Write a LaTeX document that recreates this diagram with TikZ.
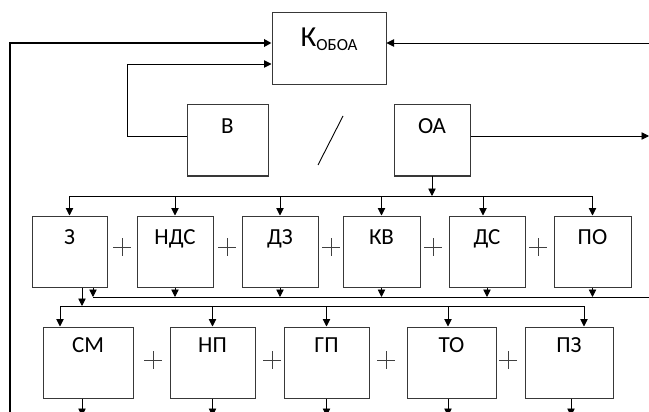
\documentclass[tikz,border=0pt]{standalone}
\usepackage{fontspec}
\setmainfont{Carlito}
\usetikzlibrary{arrows.meta}
\begin{document}
\begin{tikzpicture}[x=1pt,y=-1pt,
  box/.style={draw=black!78,line width=1pt,rectangle,inner sep=0pt,fill=none},
  lbl/.style={anchor=base,inner sep=0pt,font=\fontsize{23}{23}\selectfont},
  con/.style={draw=black,line width=0.9pt},
  arr/.style={con,-{Triangle[length=7.5pt,width=7.5pt]}},
  thickarr/.style={draw=black,line width=1.8pt,-{Triangle[length=7.5pt,width=7.5pt]}},
  plus/.pic={\draw[black!75,line width=0.8pt] (-9,0) -- (9,0) (0,-9) -- (0,9);}
]
\useasboundingbox (0,0) rectangle (649,412);
\fill[white] (0,0) rectangle (649,412);

% top boxes
\node[box,minimum width=114pt,minimum height=72pt] (K) at (329,49) {};
\node[box,minimum width=81pt,minimum height=71pt] (B) at (227.5,140.5) {};
\node[box,minimum width=76pt,minimum height=71pt] (OA) at (432,140.5) {};
\node[anchor=base,inner sep=0pt,font=\fontsize{29}{29}\selectfont] (tK) at (329,46.5) {К\raisebox{-4pt}{\fontsize{17}{17}\selectfont ОБОА}};
\node[lbl] (tB) at (227.5,134) {В};
\node[lbl] (tOA) at (432,134) {ОА};
\draw[con] (318,165) -- (343,116);

% middle row
\node[box,minimum width=75pt,minimum height=71pt] (Z) at (69.5,251.5) {};
\node[box,minimum width=76pt,minimum height=71pt] (NDS) at (175,251.5) {};
\node[box,minimum width=76pt,minimum height=71pt] (DZ) at (280,251.5) {};
\node[box,minimum width=77pt,minimum height=71pt] (KV) at (381.5,251.5) {};
\node[box,minimum width=76pt,minimum height=71pt] (DS) at (487,251.5) {};
\node[box,minimum width=77pt,minimum height=71pt] (PO) at (592.5,251.5) {};
\node[lbl] (tZ) at (69.5,244.5) {З};
\node[lbl] (tNDS) at (175,244.5) {НДС};
\node[lbl] (tDZ) at (280,244.5) {ДЗ};
\node[lbl] (tKV) at (381.5,244.5) {КВ};
\node[lbl] (tDS) at (487,244.5) {ДС};
\node[lbl] (tPO) at (592.5,244.5) {ПО};
\pic at (122,247) {plus};
\pic at (227,247) {plus};
\pic at (331,247) {plus};
\pic at (433,247) {plus};
\pic at (538,247) {plus};

% bottom row
\node[box,minimum width=90pt,minimum height=71pt] (SM) at (88,362.5) {};
\node[box,minimum width=85pt,minimum height=71pt] (NP) at (212.5,362.5) {};
\node[box,minimum width=85pt,minimum height=71pt] (GP) at (326.5,362.5) {};
\node[box,minimum width=89pt,minimum height=71pt] (TO) at (451.5,362.5) {};
\node[box,minimum width=88pt,minimum height=71pt] (PZ) at (569,362.5) {};
\node[lbl] (tSM) at (88,352.5) {СМ};
\node[lbl] (tNP) at (212.5,352.5) {НП};
\node[lbl] (tGP) at (326.5,352.5) {ГП};
\node[lbl] (tTO) at (451.5,352.5) {ТО};
\node[lbl] (tPZ) at (569,352.5) {ПЗ};
\pic at (153,360) {plus};
\pic at (272,360) {plus};
\pic at (386,360) {plus};
\pic at (508,360) {plus};

% helper coordinates
\coordinate (lb) at (10,416);
\coordinate (re1) at (649,43);
\coordinate (re2) at (649,136);
\coordinate (re3) at (649,297);
\coordinate (b1) at (0,196);
\coordinate (b2) at (0,297);
\coordinate (b3) at (0,306);
\coordinate (bot) at (0,416);

% connectors to K
\draw[thickarr] (lb) |- ([yshift=6pt]K.west);
\draw[arr] ([yshift=4.5pt]B.west) -- ++(-59,0) |- ([yshift=-15pt]K.west);
\draw[arr] (re1) -- ([yshift=6pt]K.east);
\draw[arr] ([yshift=4.5pt]OA.east) -- (re2);

% bus 1
\draw[arr] (OA.south) -- (OA.south |- b1);
\draw[con] (Z.north |- b1) -- (PO.north |- b1);
\foreach \n in {Z,NDS,DZ,KV,PO}{\draw[arr] (\n.north |- b1) -- (\n.north);}
\draw[arr] ([xshift=-4pt]DS.north |- b1) -- ([xshift=-4pt]DS.north);

% bus 2
\draw[con] ([xshift=23.5pt]Z.south |- b2) -- (re3);
\draw[arr] ([xshift=23.5pt]Z.south) -- ([xshift=23.5pt]Z.south |- b2);
\foreach \n in {NDS,DZ,KV,DS,PO}{\draw[arr] (\n.south) -- (\n.south |- b2);}

% bus 3
\draw[arr] ([xshift=12.5pt]Z.south) -- ([xshift=12.5pt]Z.south |- b3);
\draw[con] ([xshift=-28pt]SM.north |- b3) -- ([xshift=15pt]PZ.north |- b3);
\draw[arr] ([xshift=-28pt]SM.north |- b3) -- ([xshift=-28pt]SM.north);
\foreach \n in {NP,GP}{\draw[arr] (\n.north |- b3) -- (\n.north);}
\draw[arr] ([xshift=-3.5pt]TO.north |- b3) -- ([xshift=-3.5pt]TO.north);
\draw[arr] ([xshift=15pt]PZ.north |- b3) -- ([xshift=15pt]PZ.north);

% bottom outputs
\draw[arr] ([xshift=-6pt]SM.south) -- ([xshift=-6pt]SM.south |- bot);
\foreach \n in {NP,GP}{\draw[arr] (\n.south) -- (\n.south |- bot);}
\draw[arr] ([xshift=-3.5pt]TO.south) -- ([xshift=-3.5pt]TO.south |- bot);
\draw[arr] ([xshift=2pt]PZ.south) -- ([xshift=2pt]PZ.south |- bot);
\end{tikzpicture}
\end{document}
